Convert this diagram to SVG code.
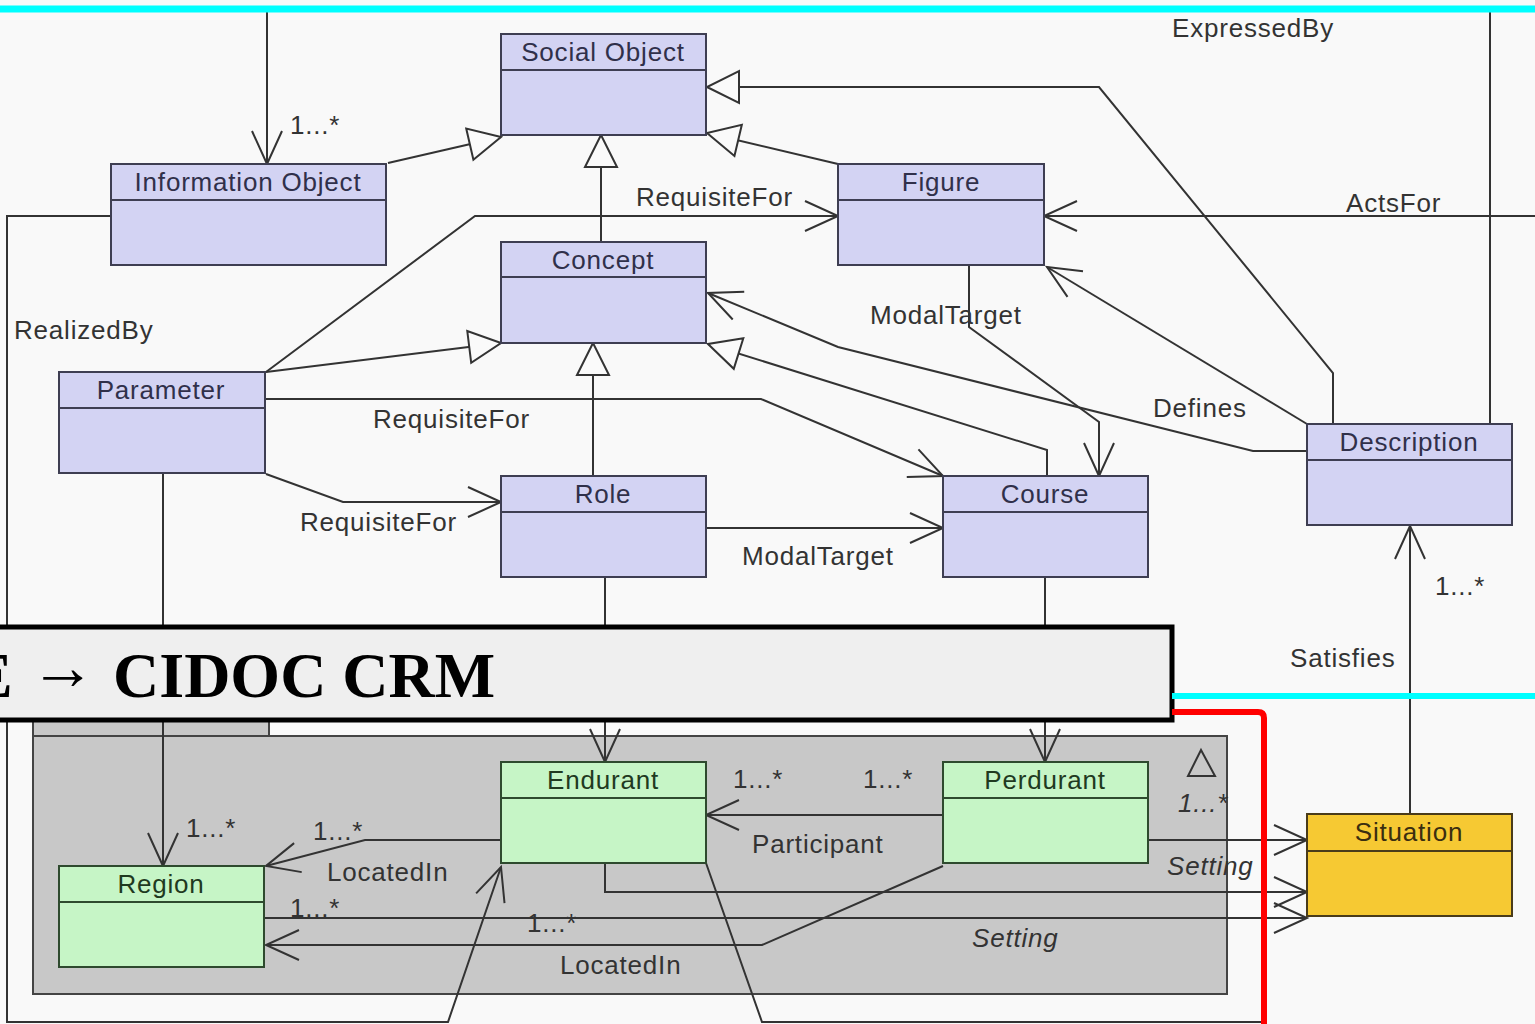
<svg xmlns="http://www.w3.org/2000/svg" width="1535" height="1024" viewBox="0 0 1535 1024">
  <style>
    .bl { fill: #d3d3f3; stroke: #3e3e52; stroke-width: 2; }
    .gr { fill: #c6f5c6; stroke: #2e4a2e; stroke-width: 2; }
    .yl { fill: #f6c933; stroke: #4a3c1a; stroke-width: 2; }
    .dv { stroke-width: 2; }
    .nt { font-family: "Liberation Sans", Arial, sans-serif; font-size: 26px; letter-spacing: 0.8px; text-anchor: middle; fill: #30304a; }
    .ng { fill: #1f3a1f; }
    .ny { fill: #3a2e10; }
    .lb { font-family: "Liberation Sans", Arial, sans-serif; font-size: 26px; letter-spacing: 0.8px; fill: #333; }
    .it { font-style: italic; }
    .ln { fill: none; stroke: #333; stroke-width: 2; }
  </style>
  <defs>
    <marker id="open" viewBox="-40 -20 44 40" markerWidth="44" markerHeight="40" refX="0" refY="0" orient="auto" markerUnits="userSpaceOnUse">
      <path d="M-33,-15 L0,0 L-33,15" fill="none" stroke="#333" stroke-width="2"/>
    </marker>
    <marker id="tri" viewBox="-40 -20 44 40" markerWidth="44" markerHeight="40" refX="0" refY="0" orient="auto" markerUnits="userSpaceOnUse">
      <path d="M0,0 L-32,-16 L-32,16 Z" fill="#fafafa" stroke="#333" stroke-width="2"/>
    </marker>
  </defs>

  <!-- page -->
  <rect x="0" y="0" width="1535" height="1024" fill="#f9f9f9"/>

  <!-- package frame -->
  <g id="package">
    <rect x="33" y="700" width="236" height="36" fill="#c8c8c8" stroke="#444" stroke-width="2"/>
    <rect x="33" y="736" width="1194" height="258" fill="#c8c8c8" stroke="#444" stroke-width="2"/>
    <polygon points="1201,750 1188,776 1215,776" fill="none" stroke="#333" stroke-width="2"/>
  </g>

  <!-- connectors -->
  <g id="connectors">
    <path class="ln" d="M267,11 V164" marker-end="url(#open)"/>
    <path class="ln" d="M1490,424 V11"/>
    <path class="ln" d="M388,163 L501,137" marker-end="url(#tri)"/>
    <path class="ln" d="M601,242 V135" marker-end="url(#tri)"/>
    <path class="ln" d="M838,164 L707,133" marker-end="url(#tri)"/>
    <path class="ln" d="M1333,424 V373 L1099,87 H707" marker-end="url(#tri)"/>
    <path class="ln" d="M266,372 L501,343" marker-end="url(#tri)"/>
    <path class="ln" d="M593,476 V343" marker-end="url(#tri)"/>
    <path class="ln" d="M1047,476 V450 L708,344" marker-end="url(#tri)"/>
    <path class="ln" d="M266,372 L475,216 H838" marker-end="url(#open)"/>
    <path class="ln" d="M266,399 H761 L943,476" marker-end="url(#open)"/>
    <path class="ln" d="M266,474 L343,502 H501" marker-end="url(#open)"/>
    <path class="ln" d="M706,528 H943" marker-end="url(#open)"/>
    <path class="ln" d="M969,265 V327 L1099,422 V476" marker-end="url(#open)"/>
    <path class="ln" d="M1307,451 H1253 L838,347 L708,293" marker-end="url(#open)"/>
    <path class="ln" d="M1307,424 L1047,267" marker-end="url(#open)"/>
    <path class="ln" d="M1535,216 H1044" marker-end="url(#open)"/>
    <path class="ln" d="M1410,814 V526" marker-end="url(#open)"/>
    <path class="ln" d="M110,216 H7 V1022 H448 L501,867" marker-end="url(#open)"/>
    <path class="ln" d="M706,863 L762,1022 H1262"/>
    <path class="ln" d="M163,473 V866" marker-end="url(#open)"/>
    <path class="ln" d="M605,577 V762" marker-end="url(#open)"/>
    <path class="ln" d="M1045,577 V762" marker-end="url(#open)"/>
    <path class="ln" d="M501,840 H365 L266,866" marker-end="url(#open)"/>
    <path class="ln" d="M943,815 H706" marker-end="url(#open)"/>
    <path class="ln" d="M1148,840 H1307" marker-end="url(#open)"/>
    <path class="ln" d="M605,863 V892 H1307" marker-end="url(#open)"/>
    <path class="ln" d="M264,918 H1307" marker-end="url(#open)"/>
    <path class="ln" d="M943,866 L762,945 H266" marker-end="url(#open)"/>
  </g>

  <!-- connector labels -->
  <g id="labels">
    <text class="lb" x="290" y="134">1...*</text>
    <text class="lb" x="1172" y="37">ExpressedBy</text>
    <text class="lb" x="636" y="206">RequisiteFor</text>
    <text class="lb" x="1346" y="212">ActsFor</text>
    <text class="lb" x="14" y="339">RealizedBy</text>
    <text class="lb" x="870" y="324">ModalTarget</text>
    <text class="lb" x="1153" y="417">Defines</text>
    <text class="lb" x="373" y="428">RequisiteFor</text>
    <text class="lb" x="300" y="531">RequisiteFor</text>
    <text class="lb" x="742" y="565">ModalTarget</text>
    <text class="lb" x="1435" y="595">1...*</text>
    <text class="lb" x="1290" y="667">Satisfies</text>
    <text class="lb" x="733" y="788">1...*</text>
    <text class="lb" x="863" y="788">1...*</text>
    <text class="lb it" x="1178" y="812">1...*</text>
    <text class="lb" x="752" y="853">Participant</text>
    <text class="lb it" x="1167" y="875">Setting</text>
    <text class="lb" x="186" y="837">1...*</text>
    <text class="lb" x="313" y="840">1...*</text>
    <text class="lb" x="327" y="881">LocatedIn</text>
    <text class="lb" x="290" y="917">1...*</text>
    <text class="lb" x="527" y="932">1...*</text>
    <text class="lb it" x="972" y="947">Setting</text>
    <text class="lb" x="560" y="974">LocatedIn</text>
  </g>

  <!-- classes -->
  <g id="social-object">
    <rect class="bl" x="501" y="34" width="205" height="101"/>
    <line class="dv" x1="501" y1="70" x2="706" y2="70" stroke="#3e3e52"/>
    <text class="nt" x="603" y="61">Social Object</text>
  </g>
  <g id="information-object">
    <rect class="bl" x="111" y="164" width="275" height="101"/>
    <line class="dv" x1="111" y1="200" x2="386" y2="200" stroke="#3e3e52"/>
    <text class="nt" x="248" y="191">Information Object</text>
  </g>
  <g id="figure">
    <rect class="bl" x="838" y="164" width="206" height="101"/>
    <line class="dv" x1="838" y1="200" x2="1044" y2="200" stroke="#3e3e52"/>
    <text class="nt" x="941" y="191">Figure</text>
  </g>
  <g id="concept">
    <rect class="bl" x="501" y="242" width="205" height="101"/>
    <line class="dv" x1="501" y1="277" x2="706" y2="277" stroke="#3e3e52"/>
    <text class="nt" x="603" y="269">Concept</text>
  </g>
  <g id="parameter">
    <rect class="bl" x="59" y="372" width="206" height="101"/>
    <line class="dv" x1="59" y1="408" x2="265" y2="408" stroke="#3e3e52"/>
    <text class="nt" x="161" y="399">Parameter</text>
  </g>
  <g id="role">
    <rect class="bl" x="501" y="476" width="205" height="101"/>
    <line class="dv" x1="501" y1="512" x2="706" y2="512" stroke="#3e3e52"/>
    <text class="nt" x="603" y="503">Role</text>
  </g>
  <g id="course">
    <rect class="bl" x="943" y="476" width="205" height="101"/>
    <line class="dv" x1="943" y1="512" x2="1148" y2="512" stroke="#3e3e52"/>
    <text class="nt" x="1045" y="503">Course</text>
  </g>
  <g id="description">
    <rect class="bl" x="1307" y="424" width="205" height="101"/>
    <line class="dv" x1="1307" y1="460" x2="1512" y2="460" stroke="#3e3e52"/>
    <text class="nt" x="1409" y="451">Description</text>
  </g>
  <g id="endurant">
    <rect class="gr" x="501" y="762" width="205" height="101"/>
    <line class="dv" x1="501" y1="798" x2="706" y2="798" stroke="#2e4a2e"/>
    <text class="nt ng" x="603" y="789">Endurant</text>
  </g>
  <g id="perdurant">
    <rect class="gr" x="943" y="762" width="205" height="101"/>
    <line class="dv" x1="943" y1="798" x2="1148" y2="798" stroke="#2e4a2e"/>
    <text class="nt ng" x="1045" y="789">Perdurant</text>
  </g>
  <g id="region">
    <rect class="gr" x="59" y="866" width="205" height="101"/>
    <line class="dv" x1="59" y1="902" x2="264" y2="902" stroke="#2e4a2e"/>
    <text class="nt ng" x="161" y="893">Region</text>
  </g>
  <g id="situation">
    <rect class="yl" x="1307" y="814" width="205" height="102"/>
    <line class="dv" x1="1307" y1="851" x2="1512" y2="851" stroke="#4a3c1a"/>
    <text class="nt ny" x="1409" y="841">Situation</text>
  </g>

  <!-- title banner -->
  <g id="title">
    <rect x="-10" y="627" width="1182" height="93" fill="#efefef" stroke="#000" stroke-width="5"/>
    <text font-family="'Liberation Serif', 'Times New Roman', serif" font-weight="bold" font-size="64" fill="#000" y="697">
      <tspan x="-30">E</tspan><tspan x="30" y="689" font-weight="normal" font-size="66">→</tspan><tspan x="113" y="697">CIDOC CRM</tspan>
    </text>
  </g>

  <!-- highlight rules -->
  <g id="rules">
    <line x1="0" y1="9" x2="1535" y2="9" stroke="#00ffff" stroke-width="7"/>
    <line x1="1172" y1="696" x2="1535" y2="696" stroke="#00ffff" stroke-width="6"/>
    <path d="M1172,712 H1258 Q1264,712 1264,718 V1024" fill="none" stroke="#ff0000" stroke-width="6"/>
  </g>
</svg>
